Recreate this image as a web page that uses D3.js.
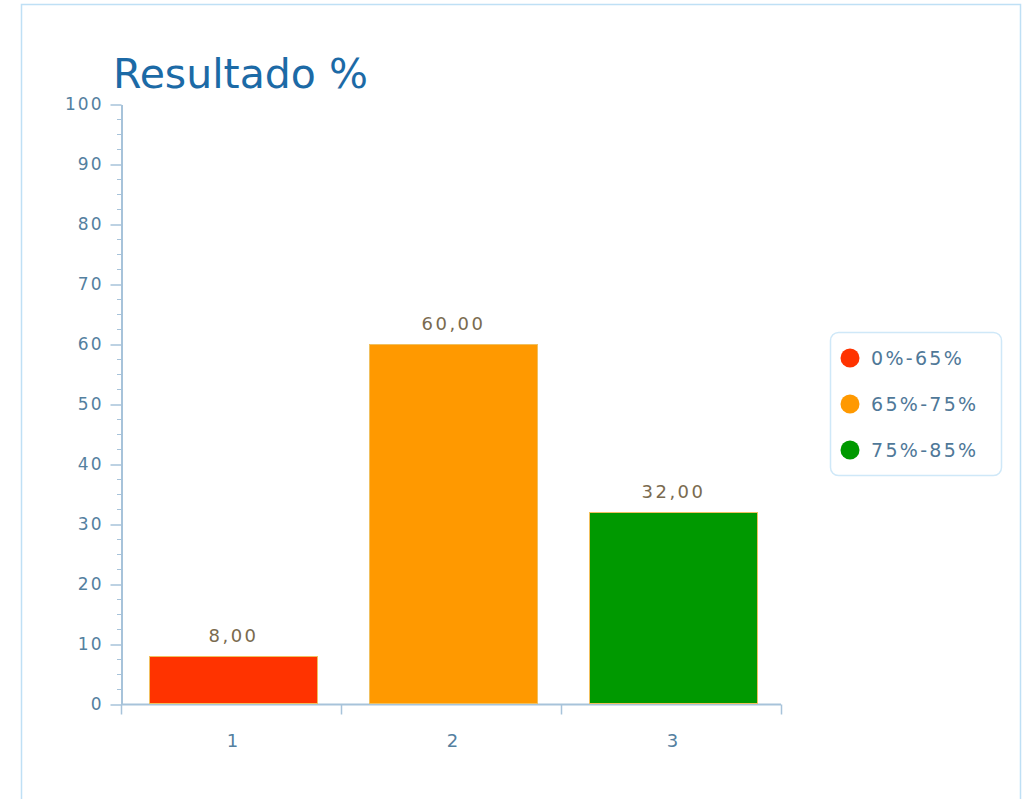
<!DOCTYPE html>
<html>
<head>
<meta charset="utf-8">
<script src="https://cdn.jsdelivr.net/npm/d3@7/dist/d3.min.js"></script>
<style>
  body { margin: 0; background: #fff; }
  text { font-family: "DejaVu Sans", Verdana, sans-serif; }
</style>
</head>
<body>
<svg id="chart" width="1032" height="799"></svg>
<script>
var categories = ["1", "2", "3"];
var values = [8, 60, 32];
var valueLabels = ["8,00", "60,00", "32,00"];
var legendLabels = ["0%-65%", "65%-75%", "75%-85%"];
var barColors = ["#ff3300", "#ff9900", "#009900"];
var yTicks = [0, 10, 20, 30, 40, 50, 60, 70, 80, 90, 100];

var svg = d3.select("#chart");

// outer panel
svg.append("rect")
    .attr("x", 21.5).attr("y", 4.5)
    .attr("width", 999).attr("height", 820)
    .attr("fill", "#fff")
    .attr("stroke", "#bfe0f5").attr("stroke-width", 1.5);

var x0 = 121, x1 = 781, yTop = 104, yBot = 704;

var pad = 52 / 220;
var x = d3.scaleBand().domain(categories).range([x0 + 1.5, x1 + 1.5]).paddingInner(pad).paddingOuter(pad / 2);
var y = d3.scaleLinear().domain([0, 100]).range([yBot, yTop]);

var axisColor = "#a7c3da", tickText = "#54809f";

// title
svg.append("text")
    .attr("x", 113).attr("y", 88)
    .attr("fill", "#1c6aa6")
    .style("font-size", "41px")
    .text("Resultado %");

// minor ticks
var minor = d3.range(0, 100.1, 2.5).filter(function(d) { return d % 10 !== 0; });
svg.append("g").selectAll("line").data(minor).join("line")
    .attr("x1", x0 - 4).attr("x2", x0)
    .attr("y1", function(d) { return Math.round(y(d)) + 0.5; })
    .attr("y2", function(d) { return Math.round(y(d)) + 0.5; })
    .attr("stroke", axisColor).attr("stroke-width", 1);

// y axis
var yAxis = svg.append("g")
    .attr("transform", "translate(" + (x0 + 0.5) + ",0.5)")
    .call(d3.axisLeft(y).tickValues(yTicks).tickSize(11).tickPadding(9).tickSizeOuter(0));
yAxis.select(".domain").attr("stroke", axisColor).attr("stroke-width", 2);
yAxis.selectAll(".tick line").attr("stroke", axisColor).attr("stroke-width", 1.5);
yAxis.selectAll(".tick text")
    .attr("fill", tickText)
    .style("font-size", "17px")
    .style("letter-spacing", "2px")
    .attr("dx", "2px");

// x axis
var xAxisLine = svg.append("g").attr("transform", "translate(0," + (yBot + 0.5) + ")");
xAxisLine.append("line")
    .attr("x1", x0).attr("x2", x1)
    .attr("stroke", axisColor).attr("stroke-width", 2);
var bounds = [x0, x0 + 220, x0 + 440, x1];
xAxisLine.selectAll(".sep").data(bounds).join("line")
    .attr("x1", function(d) { return d + 0.5; })
    .attr("x2", function(d) { return d + 0.5; })
    .attr("y1", 0).attr("y2", 10)
    .attr("stroke", axisColor).attr("stroke-width", 1.5);
xAxisLine.selectAll(".lbl").data(categories).join("text")
    .attr("x", function(d) { return x(d) + x.bandwidth() / 2; })
    .attr("y", 42)
    .attr("text-anchor", "middle")
    .attr("fill", tickText)
    .style("font-size", "18px")
    .text(function(d) { return d; });

// bars
svg.append("g").selectAll("rect").data(values).join("rect")
    .attr("x", function(d, i) { return Math.round(x(categories[i])) + 0.5; })
    .attr("y", function(d) { return Math.round(y(d)) + 0.5; })
    .attr("width", Math.round(x.bandwidth()))
    .attr("height", function(d) { return Math.round(y(0) - y(d)) - 1; })
    .attr("fill", function(d, i) { return barColors[i]; })
    .attr("stroke", "#f0c060").attr("stroke-width", 1);

// value labels
svg.append("g").selectAll("text").data(values).join("text")
    .attr("x", function(d, i) { return x(categories[i]) + x.bandwidth() / 2 + 1; })
    .attr("y", function(d) { return y(d) - 14; })
    .attr("text-anchor", "middle")
    .attr("fill", "#7a6a4f")
    .style("font-size", "18px")
    .style("letter-spacing", "2.5px")
    .text(function(d, i) { return valueLabels[i]; });

// legend
var lg = svg.append("g");
lg.append("rect")
    .attr("x", 830.5).attr("y", 332.5)
    .attr("width", 171).attr("height", 143).attr("rx", 8)
    .attr("fill", "#fff")
    .attr("stroke", "#cfe8f8").attr("stroke-width", 1.5);
var items = lg.selectAll(".item").data(legendLabels).join("g")
    .attr("transform", function(d, i) { return "translate(850," + (358 + i * 46) + ")"; });
items.append("circle").attr("r", 9.5).attr("fill", function(d, i) { return barColors[i]; });
items.append("text")
    .attr("x", 21).attr("y", 7)
    .attr("fill", "#4f7898")
    .style("font-size", "19px")
    .style("letter-spacing", "2.3px")
    .text(function(d) { return d; });
</script>
</body>
</html>
